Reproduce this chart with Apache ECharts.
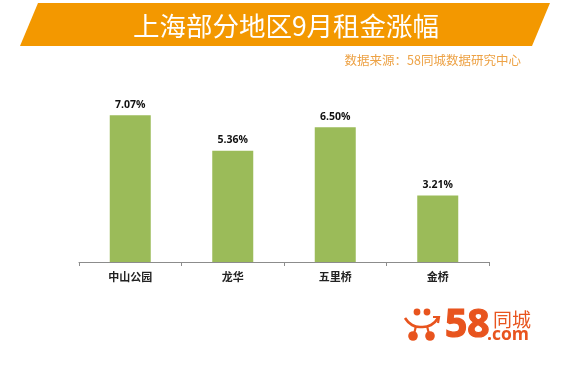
<!DOCTYPE html>
<html><head><meta charset="utf-8">
<style>html,body{margin:0;padding:0;background:#fff}#c{width:581px;height:377px}</style>
<script src="https://cdn.jsdelivr.net/npm/echarts@6/dist/echarts.min.js"></script>
</head><body><div id="c"></div>
<script>
const categories = ['中山公园','龙华','五里桥','金桥'];
const rentIncrease = [7.07,5.36,6.50,3.21];
const titleText = '上海部分地区9月租金涨幅';
const sourceText = '数据来源：58同城数据研究中心';
const CJK = '"Noto Sans CJK SC","Noto Sans",sans-serif';
const logo = '#e8541e';
const chart = echarts.init(document.getElementById('c'),null,{renderer:'canvas'});
chart.setOption({
  animation:false,
  backgroundColor:'#fff',
  grid:{left:79,width:410,top:96,height:166},
  xAxis:{type:'category',data:categories,
    axisLine:{lineStyle:{color:'#8c8c8c',width:1}},
    axisTick:{show:true,length:4,inside:false,lineStyle:{color:'#8c8c8c'}},
    axisLabel:{color:'#222',fontSize:11,fontWeight:'bold',fontFamily:CJK,margin:9}},
  yAxis:{type:'value',min:0,max:8,interval:1,show:false,splitLine:{show:false}},
  series:[{type:'bar',data:rentIncrease,barWidth:41,
    itemStyle:{color:'#9bbb59'},
    label:{show:true,position:'top',distance:5,color:'#111',fontSize:10.5,fontWeight:'bold',
      fontFamily:'"Open Sans","Noto Sans",sans-serif',
      formatter:p=>p.value.toFixed(2)+'%'}}],
  graphic:[
    {type:'polygon',silent:true,shape:{points:[[38,3],[550,3],[532,46],[20,46]]},style:{fill:'#f39800'}},
    {type:'text',x:286,y:26,style:{text:titleText,fill:'#fff',font:'26.5px '+CJK,align:'center',verticalAlign:'middle'}},
    {type:'text',x:521,y:60,style:{text:sourceText,fill:'#eda245',font:'12.5px '+CJK,align:'right',verticalAlign:'middle'}},
    // logo
    {type:'circle',shape:{cx:417,cy:312,r:3.4},style:{fill:logo}},
    {type:'circle',shape:{cx:427,cy:312,r:3.4},style:{fill:logo}},
    {type:'circle',shape:{cx:413,cy:336,r:4.8},style:{fill:logo}},
    {type:'circle',shape:{cx:430,cy:336,r:4.8},style:{fill:logo}},
    {type:'polyline',shape:{points:[[405,318],[412,325],[421,327],[431,325],[438,318]],smooth:0.5},style:{stroke:logo,fill:null,lineWidth:2.6}},
    {type:'polyline',shape:{points:[[433,317],[439,317],[438,323]]},style:{stroke:logo,fill:null,lineWidth:2.2}},
    {type:'polyline',shape:{points:[[416,326],[414,334]]},style:{stroke:logo,fill:null,lineWidth:2.2}},
    {type:'polyline',shape:{points:[[427,326],[429,334]]},style:{stroke:logo,fill:null,lineWidth:2.2}},
    {type:'text',x:445,y:326,style:{text:'58',fill:logo,stroke:logo,lineWidth:1.2,font:'bold 39px "Open Sans",sans-serif',align:'left',verticalAlign:'middle'}},
    {type:'text',x:493,y:320,style:{text:'同城',fill:logo,font:'19px '+CJK,align:'left',verticalAlign:'middle'}},
    {type:'text',x:487,y:335,style:{text:'.com',fill:logo,font:'bold 17.5px "Open Sans",sans-serif',align:'left',verticalAlign:'middle'}}
  ]
});
</script></body></html>
